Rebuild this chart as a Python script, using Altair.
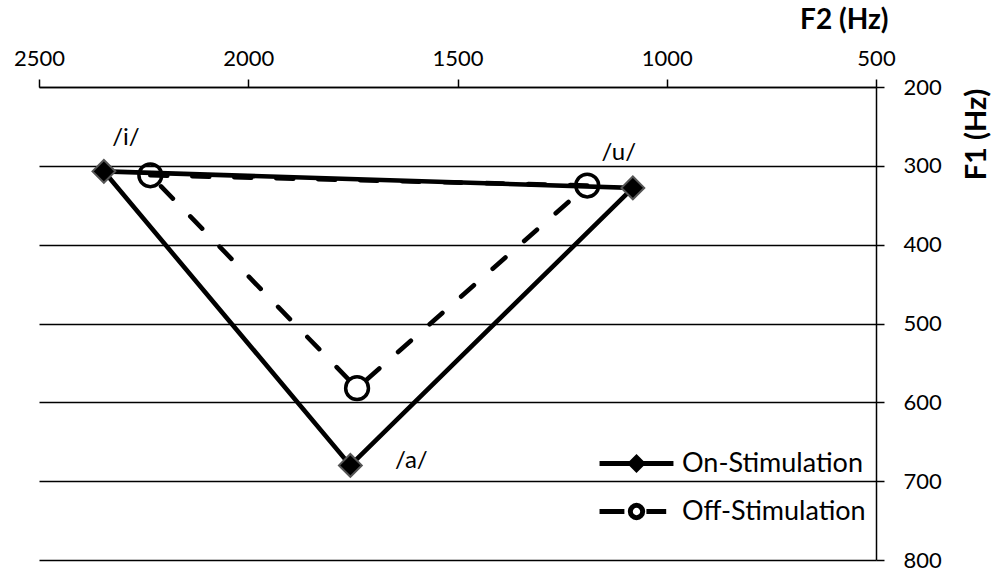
import altair as alt
import pandas as pd

vowels = ["i", "u", "a"]
series_names = ["On-Stimulation", "Off-Stimulation"]
on_f2 = [2345, 1081, 1756]
on_f1 = [307, 328, 680]
off_f2 = [2234, 1190, 1740]
off_f1 = [312, 325, 582]
x_ticks = [500, 1000, 1500, 2000, 2500]
y_ticks = [200, 300, 400, 500, 600, 700, 800]

FONT = "Lato"

rows = []
for name, f2s, f1s in [(series_names[0], on_f2, on_f1), (series_names[1], off_f2, off_f1)]:
    for k, idx in enumerate([0, 1, 2, 0]):
        rows.append({"series": name, "vowel": vowels[idx], "label": "/" + vowels[idx] + "/",
                     "F2": f2s[idx], "F1": f1s[idx], "seq": k})
df = pd.DataFrame(rows)
pts = df[df.seq < 3]

x_enc = alt.X(
    "F2:Q",
    scale=alt.Scale(domain=[500, 2500], reverse=True, nice=False, zero=False),
    axis=alt.Axis(orient="top", values=x_ticks, title="F2 (Hz)", grid=False, format="d",
                  domainColor="black", domainWidth=1.5, tickColor="black", tickWidth=1.5, tickSize=8,
                  labelFont=FONT, labelFontSize=22, labelColor="black", labelPadding=9,
                  titleFont=FONT, titleFontSize=28, titleFontWeight="bold", titleColor="black",
                  titleAnchor="end", titleAlign="right", titleBaseline="alphabetic",
                  titleX=849, titleY=-59, labelFlush=False),
)
y_enc = alt.Y(
    "F1:Q",
    scale=alt.Scale(domain=[200, 800], reverse=True, nice=False, zero=False),
    axis=alt.Axis(orient="right", values=y_ticks, title="F1 (Hz)", grid=True, format="d",
                  gridColor="black", gridWidth=1.5, gridOpacity=1,
                  domainColor="black", domainWidth=1.5, tickColor="black", tickWidth=1.5, tickSize=8,
                  labelFont=FONT, labelFontSize=22, labelColor="black", labelPadding=19, labelAlign="left",
                  titleFont=FONT, titleFontSize=29, titleFontWeight="bold", titleColor="black",
                  titleAngle=270, titleAlign="center", titleBaseline="middle",
                  titleX=100, titleY=47, labelFlush=False),
)

line_on = alt.Chart(df).transform_filter(alt.datum.series == series_names[0]).mark_line(
    strokeWidth=4.6, color="black", strokeCap="round"
).encode(x=x_enc, y=y_enc, order="seq:Q")

line_off = alt.Chart(df).transform_filter(alt.datum.series == series_names[1]).mark_line(
    strokeWidth=4.6, color="black", strokeCap="round", strokeDash=[17, 25]
).encode(x=x_enc, y=y_enc, order="seq:Q")

on_pts = alt.Chart(pts).transform_filter(alt.datum.series == series_names[0]).mark_point(
    shape="diamond", filled=True, fill="black", stroke="#555555", strokeWidth=2, size=520, opacity=1
).encode(x=x_enc, y=y_enc)

off_pts = alt.Chart(pts).transform_filter(alt.datum.series == series_names[1]).mark_point(
    shape="circle", filled=False, stroke="black", strokeWidth=3.5, size=520, opacity=1
).encode(x=x_enc, y=y_enc)

on_path = "M-1.68,0H1.68M0,-0.27V0.27M0,-0.27L0.27,0L0,0.27L-0.27,0Z"
off_path = "M-1.68,0H-0.55M0.45,0H1.35M0.28,0A0.28,0.28,0,1,1,-0.28,0A0.28,0.28,0,1,1,0.28,0"

legend_layer = alt.Chart(pts).mark_point(opacity=0, filled=False).encode(
    x=x_enc, y=y_enc,
    shape=alt.Shape("series:N", scale=alt.Scale(domain=series_names, range=[on_path, off_path]),
                    legend=alt.Legend(title=None, orient="none", legendX=573, legendY=352,
                                      symbolSize=1936, symbolStrokeWidth=5, symbolStrokeColor="black",
                                      symbolFillColor="transparent", symbolOpacity=1,
                                      labelFont=FONT, labelFontSize=27, labelColor="black",
                                      labelLimit=400, labelOffset=21, rowPadding=7, padding=0)),
)

label_specs = [("i", 22, -33), ("u", -14, -35), ("a", 61, -4)]
text_layers = []
for v, dx, dy in label_specs:
    text_layers.append(
        alt.Chart(pts).transform_filter((alt.datum.series == series_names[0]) & (alt.datum.vowel == v))
        .mark_text(font=FONT, fontSize=24, color="black", dx=dx, dy=dy, align="center", baseline="middle")
        .encode(x=x_enc, y=y_enc, text="label:N")
    )

chart = alt.layer(line_on, line_off, on_pts, off_pts, legend_layer, *text_layers).properties(
    width=837, height=473,
    autosize=alt.AutoSizeParams(type="none"),
    padding={"left": 39, "top": 87, "right": 119, "bottom": 15},
    background="white",
).configure_view(stroke=None)

chart.save("out.html", embed_options={"renderer": "svg", "actions": False})
